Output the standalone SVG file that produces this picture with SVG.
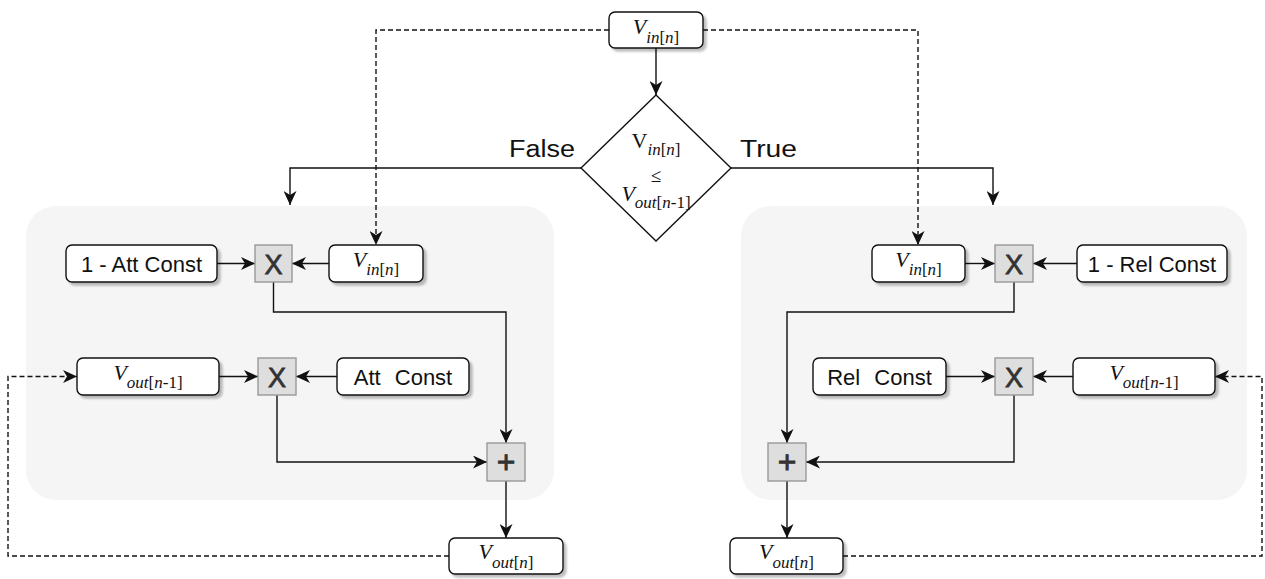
<svg xmlns="http://www.w3.org/2000/svg" width="1265" height="579" viewBox="0 0 1265 579">
  <defs>
    <style>
      .panel{fill:#f5f5f5;stroke:none}
      .box{fill:#ffffff;stroke:#111;stroke-width:1.4;filter:url(#shadow)}
      .op{fill:#dedede;stroke:#999;stroke-width:1.4}
      .dec{fill:#ffffff;stroke:#111;stroke-width:1.4}
      .lbl{font-family:"Liberation Sans",Arial,Helvetica,sans-serif;font-size:22px;fill:#111}
      .big{font-size:23px}
      .opl{font-family:"Liberation Sans",Arial,Helvetica,sans-serif;font-size:27px;fill:#333;stroke:#333;stroke-width:0.8}
      .plus{font-size:32px}
      .math{font-family:"Liberation Serif","Times New Roman",serif;font-size:22px;font-style:italic;fill:#111}
      .sub{font-size:17px}
      .up{font-style:normal}
      .wire{fill:none;stroke:#111;stroke-width:1.4;marker-end:url(#arrow)}
      .dash{stroke-dasharray:5 3}
    </style>
    <filter id="shadow" x="-10%" y="-20%" width="130%" height="160%">
      <feDropShadow dx="3" dy="3" stdDeviation="1" flood-color="#000" flood-opacity="0.25"/>
    </filter>
    <marker id="arrow" markerUnits="userSpaceOnUse" markerWidth="14" markerHeight="13" refX="14" refY="6.5" orient="auto">
      <path d="M0,0 L14,6.5 L0,13 L4,6.5 Z" fill="#111" stroke="none"/>
    </marker>
  </defs>

  <!-- background panels -->
  <rect id="panel-attack" class="panel" x="26" y="206" width="528" height="294" rx="30"/>
  <rect id="panel-release" class="panel" x="741" y="206" width="506" height="294" rx="30"/>

  <!-- connectors -->
  <g id="connectors">
    <path class="wire" d="M656,48 V95"/>
    <path class="wire" d="M581,168 H290 V205"/>
    <path class="wire" d="M731,168 H993 V205"/>
    <path class="wire dash" d="M609,30 H376 V245"/>
    <path class="wire dash" d="M703,30 H918 V245"/>

    <path class="wire" d="M217,263.5 H255"/>
    <path class="wire" d="M329,263.5 H292"/>
    <path class="wire" d="M273.5,282 V312 H506 V443"/>
    <path class="wire" d="M219,376.5 H258"/>
    <path class="wire" d="M337,376.5 H296"/>
    <path class="wire" d="M277,395 V462 H487"/>
    <path class="wire" d="M506,481 V538"/>
    <path class="wire dash" d="M449,556 H8 V376.5 H77"/>

    <path class="wire" d="M965,263.5 H995"/>
    <path class="wire" d="M1077,263.5 H1033"/>
    <path class="wire" d="M1014,282 V312 H787 V443"/>
    <path class="wire" d="M946,376.5 H995"/>
    <path class="wire" d="M1073,376.5 H1033"/>
    <path class="wire" d="M1014,395 V462 H806"/>
    <path class="wire" d="M787,481 V538"/>
    <path class="wire dash" d="M843,556 H1262 V376.5 H1215"/>
  </g>

  <!-- branch labels -->
  <text class="lbl big" x="575" y="157" text-anchor="end" textLength="66" lengthAdjust="spacingAndGlyphs">False</text>
  <text class="lbl big" x="740" y="157" textLength="57" lengthAdjust="spacingAndGlyphs">True</text>

  <!-- input sample -->
  <g id="vin-top">
    <rect class="box" x="609" y="12" width="94" height="36" rx="6"/>
    <text class="math" x="656" y="34" text-anchor="middle">V<tspan class="sub" dy="8.5">in</tspan><tspan class="sub up">[</tspan><tspan class="sub">n</tspan><tspan class="sub up">]</tspan></text>
  </g>

  <!-- comparison -->
  <g id="compare">
    <polygon class="dec" points="656,95 731,168 656,241 581,168"/>
    <text class="math" x="656" y="148" text-anchor="middle"><tspan class="up">V</tspan><tspan class="sub" dy="7">in</tspan><tspan class="sub up">[</tspan><tspan class="sub">n</tspan><tspan class="sub up">]</tspan></text>
    <text class="math up" x="656" y="182" text-anchor="middle" style="font-size:19px">≤</text>
    <text class="math" x="656" y="201" text-anchor="middle">V<tspan class="sub" dy="7">out</tspan><tspan class="sub up">[</tspan><tspan class="sub">n</tspan><tspan class="sub up">-1]</tspan></text>
  </g>

  <!-- attack branch -->
  <g id="att-one-minus">
    <rect class="box" x="66" y="245" width="151" height="37" rx="6"/>
    <text class="lbl" x="141.5" y="271.5" text-anchor="middle">1 - Att Const</text>
  </g>
  <g id="att-mul-1">
    <rect class="op" x="255" y="245" width="37" height="37"/>
    <text class="opl" x="273.5" y="274" text-anchor="middle">X</text>
  </g>
  <g id="att-vin">
    <rect class="box" x="329" y="245" width="94" height="37" rx="6"/>
    <text class="math" x="376" y="266.5" text-anchor="middle">V<tspan class="sub" dy="8.5">in</tspan><tspan class="sub up">[</tspan><tspan class="sub">n</tspan><tspan class="sub up">]</tspan></text>
  </g>
  <g id="att-vout-prev">
    <rect class="box" x="77" y="358" width="142" height="37" rx="6"/>
    <text class="math" x="148" y="379.5" text-anchor="middle">V<tspan class="sub" dy="8.5">out</tspan><tspan class="sub up">[</tspan><tspan class="sub">n</tspan><tspan class="sub up">-1]</tspan></text>
  </g>
  <g id="att-mul-2">
    <rect class="op" x="258" y="358" width="38" height="37"/>
    <text class="opl" x="277" y="387" text-anchor="middle">X</text>
  </g>
  <g id="att-const">
    <rect class="box" x="337" y="358" width="132" height="37" rx="6"/>
    <text class="lbl" x="403" y="384.5" text-anchor="middle" word-spacing="8">Att Const</text>
  </g>
  <g id="att-sum">
    <rect class="op" x="487" y="443" width="38" height="38"/>
    <text class="opl plus" x="506" y="473" text-anchor="middle">+</text>
  </g>
  <g id="att-vout">
    <rect class="box" x="449" y="538" width="114" height="36" rx="6"/>
    <text class="math" x="506" y="559" text-anchor="middle">V<tspan class="sub" dy="8.5">out</tspan><tspan class="sub up">[</tspan><tspan class="sub">n</tspan><tspan class="sub up">]</tspan></text>
  </g>

  <!-- release branch -->
  <g id="rel-vin">
    <rect class="box" x="872" y="245" width="93" height="37" rx="6"/>
    <text class="math" x="918.5" y="266.5" text-anchor="middle">V<tspan class="sub" dy="8.5">in</tspan><tspan class="sub up">[</tspan><tspan class="sub">n</tspan><tspan class="sub up">]</tspan></text>
  </g>
  <g id="rel-mul-1">
    <rect class="op" x="995" y="245" width="38" height="37"/>
    <text class="opl" x="1014" y="274" text-anchor="middle">X</text>
  </g>
  <g id="rel-one-minus">
    <rect class="box" x="1077" y="245" width="150" height="37" rx="6"/>
    <text class="lbl" x="1152" y="271.5" text-anchor="middle">1 - Rel Const</text>
  </g>
  <g id="rel-const">
    <rect class="box" x="813" y="358" width="133" height="37" rx="6"/>
    <text class="lbl" x="879.5" y="384.5" text-anchor="middle" word-spacing="8">Rel Const</text>
  </g>
  <g id="rel-mul-2">
    <rect class="op" x="995" y="358" width="38" height="37"/>
    <text class="opl" x="1014" y="387" text-anchor="middle">X</text>
  </g>
  <g id="rel-vout-prev">
    <rect class="box" x="1073" y="358" width="142" height="37" rx="6"/>
    <text class="math" x="1144" y="379.5" text-anchor="middle">V<tspan class="sub" dy="8.5">out</tspan><tspan class="sub up">[</tspan><tspan class="sub">n</tspan><tspan class="sub up">-1]</tspan></text>
  </g>
  <g id="rel-sum">
    <rect class="op" x="768" y="443" width="38" height="38"/>
    <text class="opl plus" x="787" y="473" text-anchor="middle">+</text>
  </g>
  <g id="rel-vout">
    <rect class="box" x="730" y="538" width="113" height="36" rx="6"/>
    <text class="math" x="786.5" y="559" text-anchor="middle">V<tspan class="sub" dy="8.5">out</tspan><tspan class="sub up">[</tspan><tspan class="sub">n</tspan><tspan class="sub up">]</tspan></text>
  </g>
</svg>
